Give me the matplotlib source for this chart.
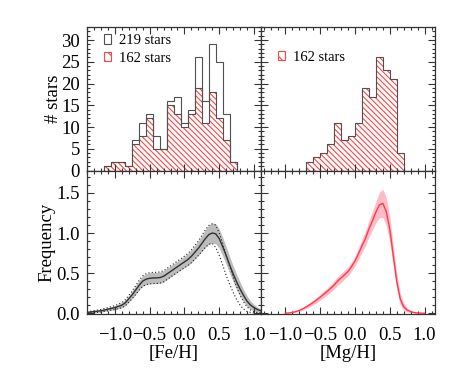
import numpy as np
import matplotlib
matplotlib.use("Agg")
import matplotlib.pyplot as plt
from matplotlib.patches import Patch
from matplotlib.ticker import MultipleLocator

plt.rcParams['font.family'] = ['Liberation Serif', 'DejaVu Serif']
plt.rcParams['hatch.linewidth'] = 0.8

# histogram counts (bin width 0.1)
feh_edges = np.round(np.linspace(-1.15, 0.75, 20), 2)
feh_all = [1, 2, 2, 1, 7, 11, 13, 8, 5, 16, 17, 11, 14, 26, 16, 29, 25, 13, 2]
feh_sub = [1, 2, 2, 1, 6, 8, 12, 5, 5, 15, 13, 10, 13, 19, 11, 18, 12, 7, 2]
mgh_edges = np.round(np.linspace(-0.7, 0.7, 15), 2)
mgh_sub = [2, 3, 4, 6, 11, 7, 8, 11, 19, 17, 26, 23, 21, 4]

# [Fe/H] density estimate, grid step 0.05 from -1.4 to 1.1
feh_x = np.round(np.linspace(-1.4, 1.1, 51), 2)
feh_y = [0.010, 0.015, 0.020, 0.025, 0.030, 0.040, 0.050, 0.060, 0.070, 0.085,
         0.100, 0.130, 0.180, 0.230, 0.290, 0.350, 0.400, 0.425, 0.435, 0.440,
         0.440, 0.445, 0.460, 0.490, 0.520, 0.550, 0.580, 0.610, 0.640, 0.670,
         0.710, 0.760, 0.810, 0.870, 0.930, 0.980, 1.000, 0.990, 0.930, 0.830,
         0.720, 0.600, 0.490, 0.390, 0.300, 0.220, 0.150, 0.100, 0.070, 0.045,
         0.030]
feh_err = [0.008, 0.010, 0.012, 0.014, 0.016, 0.018, 0.020, 0.022, 0.025, 0.028,
           0.032, 0.037, 0.042, 0.048, 0.055, 0.060, 0.065, 0.068, 0.070, 0.070,
           0.070, 0.070, 0.070, 0.070, 0.070, 0.070, 0.070, 0.070, 0.072, 0.075,
           0.080, 0.085, 0.090, 0.100, 0.110, 0.120, 0.125, 0.125, 0.120, 0.115,
           0.110, 0.105, 0.100, 0.095, 0.085, 0.075, 0.065, 0.050, 0.040, 0.030,
           0.022]
# bounds for the 162-star subsample (dotted)
feh_sub_hi = [0.018, 0.025, 0.032, 0.039, 0.046, 0.058, 0.070, 0.082, 0.095, 0.113,
              0.132, 0.167, 0.222, 0.278, 0.345, 0.410, 0.465, 0.493, 0.505, 0.510,
              0.510, 0.515, 0.530, 0.560, 0.590, 0.620, 0.650, 0.680, 0.712, 0.745,
              0.790, 0.845, 0.900, 0.970, 1.040, 1.095, 1.115, 1.100, 1.000, 0.870,
              0.720, 0.580, 0.450, 0.330, 0.220, 0.140, 0.080, 0.040, 0.020, 0.008,
              0.003]
feh_sub_lo = [0.002, 0.005, 0.008, 0.011, 0.014, 0.022, 0.030, 0.038, 0.045, 0.057,
              0.068, 0.093, 0.138, 0.182, 0.235, 0.290, 0.335, 0.357, 0.365, 0.370,
              0.370, 0.375, 0.390, 0.420, 0.450, 0.480, 0.510, 0.540, 0.568, 0.595,
              0.630, 0.675, 0.720, 0.770, 0.820, 0.860, 0.870, 0.820, 0.720, 0.600,
              0.470, 0.360, 0.260, 0.170, 0.100, 0.050, 0.020, 0.010, 0.004, 0.001,
              0.000]

# [Mg/H] density estimate, grid step 0.05 from -1.0 to 1.0
mgh_x = np.round(np.linspace(-1.0, 1.0, 41), 2)
mgh_y = [0.000, 0.003, 0.010, 0.020, 0.035, 0.055, 0.080, 0.105, 0.135, 0.165,
         0.200, 0.235, 0.270, 0.310, 0.350, 0.400, 0.440, 0.480, 0.520, 0.580,
         0.650, 0.740, 0.840, 0.930, 1.050, 1.150, 1.260, 1.350, 1.370, 1.270,
         1.050, 0.720, 0.400, 0.180, 0.080, 0.040, 0.020, 0.008, 0.003, 0.001,
         0.000]
mgh_err = [0.002, 0.003, 0.005, 0.008, 0.012, 0.016, 0.020, 0.025, 0.030, 0.034,
           0.037, 0.040, 0.043, 0.046, 0.050, 0.053, 0.055, 0.055, 0.055, 0.057,
           0.060, 0.070, 0.080, 0.090, 0.100, 0.115, 0.130, 0.160, 0.175, 0.175,
           0.160, 0.130, 0.100, 0.070, 0.045, 0.025, 0.012, 0.006, 0.003, 0.002,
           0.001]

OUTLINE = '#505050'
HATCH = '#ff4545'
HATCH_PAT = '\\' * 6
FS = 13.5

fig = plt.figure(figsize=(4.61, 3.70), dpi=100)
gs = fig.add_gridspec(2, 2, left=87/461, right=435/461, top=1-27/370,
                      bottom=1-314/370, hspace=0, wspace=0)
ax1 = fig.add_subplot(gs[0, 0])
ax2 = fig.add_subplot(gs[0, 1])
ax3 = fig.add_subplot(gs[1, 0])
ax4 = fig.add_subplot(gs[1, 1])

# top left histogram
ax1.stairs(feh_sub, feh_edges, fill=True, facecolor='none', edgecolor=HATCH,
           hatch=HATCH_PAT, lw=0)
ax1.stairs(feh_sub, feh_edges, color=OUTLINE, lw=0.8)
ax1.stairs(feh_all, feh_edges, color=OUTLINE, lw=0.8)
h_all = Patch(facecolor='none', edgecolor=OUTLINE, lw=0.8)
h_sub = Patch(facecolor='none', edgecolor=HATCH, hatch='\\\\\\', lw=0.8)
ax1.legend([h_all, h_sub], ['219 stars', '162 stars'], loc='upper left',
           frameon=False, fontsize=10.5, handlelength=0.5, handleheight=0.6,
           handletextpad=0.55, labelspacing=0.3, borderaxespad=0.0,
           borderpad=0.3, bbox_to_anchor=(0.07, 0.98))

# top right histogram
ax2.stairs(mgh_sub, mgh_edges, fill=True, facecolor='none', edgecolor=HATCH,
           hatch=HATCH_PAT, lw=0)
ax2.stairs(mgh_sub, mgh_edges, color=OUTLINE, lw=0.8)
ax2.legend([h_sub], ['162 stars'], loc='upper left', frameon=False,
           fontsize=10.5, handlelength=0.5, handleheight=0.6,
           handletextpad=0.55, borderaxespad=0.0, borderpad=0.3,
           bbox_to_anchor=(0.07, 0.865))

# bottom left density
feh_y = np.array(feh_y)
feh_err = np.array(feh_err)
ax3.fill_between(feh_x, feh_y - feh_err, feh_y + feh_err, color='#bcbcbc', lw=0)
ax3.plot(feh_x, feh_sub_hi, color='#222222', ls=(0, (1, 2)), lw=0.8)
ax3.plot(feh_x, feh_sub_lo, color='#222222', ls=(0, (1, 2)), lw=0.8)
ax3.plot(feh_x, feh_y, color='#303030', lw=1.0)

# bottom right density
mgh_y = np.array(mgh_y)
mgh_err = np.array(mgh_err)
ax4.fill_between(mgh_x, mgh_y - mgh_err, mgh_y + mgh_err, color='#ffbcc6', lw=0)
ax4.plot(mgh_x, mgh_y, color='#ff3a4a', lw=1.0)

for ax in (ax1, ax3):
    ax.set_xlim(-1.4, 1.1)
for ax in (ax2, ax4):
    ax.set_xlim(-1.35, 1.15)
for ax in (ax1, ax2):
    ax.set_ylim(0, 33)
    ax.yaxis.set_major_locator(MultipleLocator(5))
    ax.yaxis.set_minor_locator(MultipleLocator(1))
for ax in (ax3, ax4):
    ax.set_ylim(-0.01, 1.78)
    ax.yaxis.set_major_locator(MultipleLocator(0.5))
    ax.yaxis.set_minor_locator(MultipleLocator(0.1))

for ax in (ax1, ax2, ax3, ax4):
    ax.xaxis.set_major_locator(MultipleLocator(0.5))
    ax.xaxis.set_minor_locator(MultipleLocator(0.1))
    ax.tick_params(which='both', direction='in', top=True, right=True,
                   width=0.8, colors='#333333', labelcolor='black',
                   labelsize=FS)
    ax.tick_params(axis='y', pad=5)
    ax.tick_params(axis='x', pad=9)
    ax.tick_params(which='major', length=5)
    ax.tick_params(which='minor', length=2.5)
    for s in ax.spines.values():
        s.set_linewidth(0.9)
        s.set_color('#333333')

ax1.tick_params(labelbottom=False)
ax2.tick_params(labelbottom=False, labelleft=False)
ax4.tick_params(labelleft=False)
ax3.set_xticks([-1.0, -0.5, 0.0, 0.5, 1.0])
ax4.set_xticks([-1.0, -0.5, 0.0, 0.5, 1.0])

ax1.set_ylabel('# stars', fontsize=FS)
ax1.yaxis.set_label_coords(-25/174, 0.5)
ax3.set_ylabel('Frequency', fontsize=FS)
ax3.yaxis.set_label_coords(-32/174, 0.5)
ax3.set_xlabel('[Fe/H]', fontsize=FS, labelpad=1)
ax4.set_xlabel('[Mg/H]', fontsize=FS, labelpad=1)

fig.savefig('out.png', dpi=100)
